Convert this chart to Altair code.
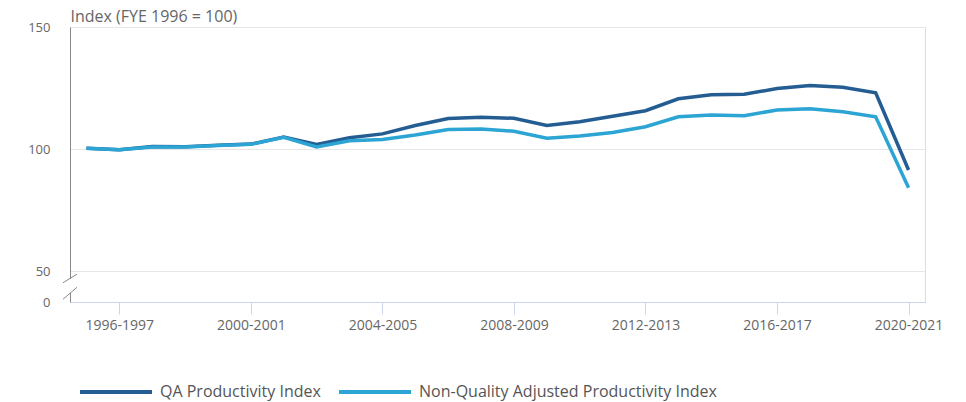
import altair as alt
import pandas as pd

years = ["1995-1996", "1996-1997", "1997-1998", "1998-1999", "1999-2000",
         "2000-2001", "2001-2002", "2002-2003", "2003-2004", "2004-2005",
         "2005-2006", "2006-2007", "2007-2008", "2008-2009", "2009-2010",
         "2010-2011", "2011-2012", "2012-2013", "2013-2014", "2014-2015",
         "2015-2016", "2016-2017", "2017-2018", "2018-2019", "2019-2020",
         "2020-2021"]
qa = [100.3, 99.7, 101.0, 100.9, 101.5, 102.0, 104.9, 101.9, 104.6, 106.2,
      109.6, 112.5, 113.0, 112.6, 109.6, 111.2, 113.4, 115.7, 120.6, 122.2,
      122.4, 124.8, 126.0, 125.3, 123.0, 91.4]
nqa = [100.3, 99.7, 100.8, 100.8, 101.4, 101.9, 104.8, 100.8, 103.4, 103.9,
       105.7, 108.0, 108.2, 107.3, 104.4, 105.3, 106.8, 109.1, 113.2, 113.9,
       113.6, 116.0, 116.5, 115.3, 113.2, 84.1]
series = ["QA Productivity Index", "Non-Quality Adjusted Productivity Index"]
colors = ["#245d92", "#2ca4d4"]
tick_years = ["1996-1997", "2000-2001", "2004-2005", "2008-2009",
              "2012-2013", "2016-2017", "2020-2021"]
y_ticks = [0, 50, 100, 150]
y_title = "Index (FYE 1996 = 100)"

rows = []
for name, vals in zip(series, [qa, nqa]):
    for yr, v in zip(years, vals):
        rows.append({"year": yr, "value": v, "series": name})
df = pd.DataFrame(rows)

yscale = alt.Scale(domain=[0, 50, 150], range=[275, 244, 0], nice=False, zero=False)

lines = alt.Chart(df).mark_line(strokeWidth=3.5).encode(
    x=alt.X("year:O", sort=years, scale=alt.Scale(type="point", padding=0.5),
            axis=alt.Axis(values=tick_years, labelAngle=0, title=None,
                          domainColor="#ccd6eb", tickColor="#ccd6eb", tickSize=12,
                          labelFontSize=14, labelColor="#666666", labelPadding=4,
                          labelFont="Open Sans", grid=False)),
    y=alt.Y("value:Q", scale=yscale,
            axis=alt.Axis(values=y_ticks, title=y_title, titleAngle=0, titleAlign="left",
                          titleX=0, titleY=-6, titleBaseline="alphabetic",
                          titleFontSize=16, titleFontWeight="normal", titleColor="#666666",
                          titleFont="Open Sans",
                          labelFontSize=13, labelColor="#666666", labelFont="Open Sans",
                          labelPadding=20, ticks=False, domainColor="#888888",
                          gridColor="#e6e6e6")),
    color=alt.Color("series:N", scale=alt.Scale(domain=series, range=colors),
                    sort=series,
                    legend=alt.Legend(title=None, orient="none", legendX=8, legendY=327,
                                      direction="horizontal", symbolType="stroke",
                                      symbolStrokeWidth=4, symbolSize=5184,
                                      labelFontSize=16, labelColor="#555555",
                                      labelFont="Open Sans", columnPadding=10,
                                      labelOffset=6, labelLimit=0)),
)

gap = pd.DataFrame({"lo": [14.5], "hi": [37.0]})
gap_rule = alt.Chart(gap).mark_rule(color="white", strokeWidth=4).encode(
    x=alt.value(0),
    y=alt.Y("lo:Q", scale=yscale, title=y_title),
    y2="hi:Q",
)

slashes = pd.DataFrame({"lo": [4.4, 31.0], "hi": [23.7, 45.0]})
slash_rule = alt.Chart(slashes).mark_rule(color="#888888", strokeWidth=1).encode(
    x=alt.value(-7),
    x2=alt.value(7),
    y=alt.Y("lo:Q", scale=yscale, title=y_title),
    y2="hi:Q",
)

chart = alt.layer(lines, gap_rule, slash_rule).properties(
    width=855, height=275,
    autosize=alt.AutoSizeParams(type="none"),
    padding={"left": 62, "top": 19, "right": 33, "bottom": 110},
).configure_view(stroke=None).configure(font="Open Sans")

chart.save("out.html", embed_options={"renderer": "svg", "actions": False})
